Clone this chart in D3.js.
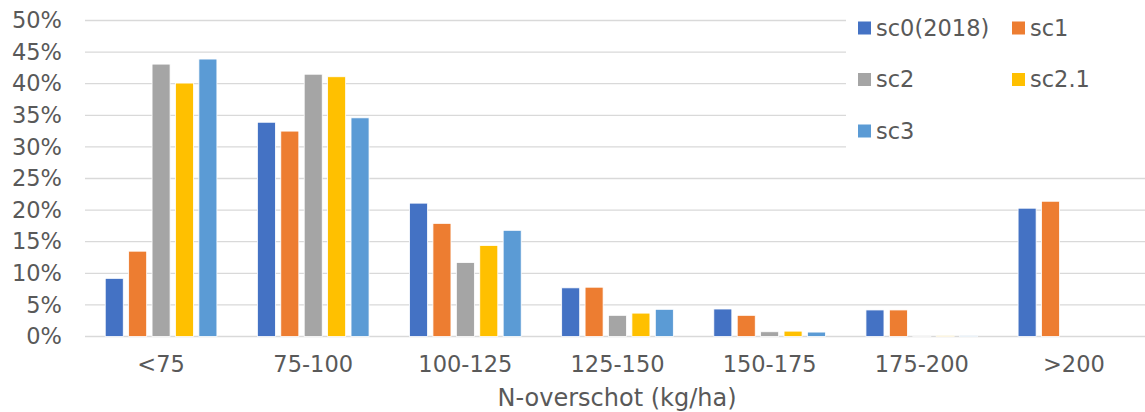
<!DOCTYPE html>
<html>
<head>
<meta charset="utf-8">
<script src="https://cdn.jsdelivr.net/npm/d3@7"></script>
<style>
  body { margin: 0; background: #fff; }
  svg { display: block; font-family: "DejaVu Sans", Verdana, sans-serif; }
</style>
</head>
<body>
<div id="chart"></div>
<script>
// Gegevens van de grafiek
var categorieen = ["<75", "75-100", "100-125", "125-150", "150-175", "175-200", ">200"];
var scenarios = ["sc0(2018)", "sc1", "sc2", "sc2.1", "sc3"];
var kleuren = ["#4472C4", "#ED7D31", "#A5A5A5", "#FFC000", "#5B9BD5"];
var sc0 = [9.2, 33.9, 21.1, 7.7, 4.35, 4.2, 20.3];
var sc1 = [13.5, 32.5, 17.9, 7.8, 3.35, 4.2, 21.4];
var sc2 = [43.1, 41.5, 11.7, 3.35, 0.75, 0.1, 0];
var sc21 = [40.1, 41.1, 14.4, 3.7, 0.85, 0.1, 0];
var sc3 = [43.9, 34.6, 16.8, 4.3, 0.7, 0.1, 0];
var yTicks = [0, 5, 10, 15, 20, 25, 30, 35, 40, 45, 50];
var asTitel = "N-overschot (kg/ha)";

var reeksen = [sc0, sc1, sc2, sc21, sc3];

var totalWidth = 1145;
var totalHeight = 412;
var plotLeft = 85, plotRight = 1145, plotTop = 20.5, plotBottom = 336.5;
var tekstKleur = "#595959";
var tekstGrootte = "22.5px";

var svg = d3.select("#chart").append("svg")
	.attr("width", totalWidth)
	.attr("height", totalHeight);

// de categorieën lopen iets voorbij de rand van de afbeelding
var x0 = d3.scaleBand().domain(categorieen).range([plotLeft, 1150]).paddingInner(0.266).paddingOuter(0.133);
var x1 = d3.scaleBand().domain(d3.range(scenarios.length)).range([0, x0.bandwidth()]).paddingInner(0.23);
var y = d3.scaleLinear().domain([0, 50]).range([plotBottom, plotTop]);

// Rasterlijnen
svg.append("g")
	.selectAll("line")
	.data(yTicks)
	.join("line")
	.attr("x1", plotLeft)
	.attr("x2", plotRight)
	.attr("y1", function(d) { return y(d); })
	.attr("y2", function(d) { return y(d); })
	.attr("stroke", "#D9D9D9")
	.attr("stroke-width", 1.3);

// Y-as labels
var yAxis = d3.axisLeft(y).tickValues(yTicks).tickFormat(function(d) { return d + "%"; }).tickSize(0).tickPadding(0);
var gy = svg.append("g").attr("transform", "translate(62,0)").call(yAxis);
gy.select(".domain").remove();
gy.selectAll("text").attr("fill", tekstKleur).style("font-size", tekstGrootte).style("font-family", "DejaVu Sans");

// Staven
var groepen = svg.append("g")
	.selectAll("g")
	.data(categorieen)
	.join("g")
	.attr("transform", function(d) { return "translate(" + x0(d) + ",0)"; });

groepen.selectAll("rect")
	.data(function(d, i) { return reeksen.map(function(r, s) { return { s: s, v: r[i] }; }); })
	.join("rect")
	.attr("x", function(d) { return x1(d.s); })
	.attr("width", x1.bandwidth())
	.attr("y", function(d) { return y(d.v); })
	.attr("height", function(d) { return plotBottom - y(d.v); })
	.attr("fill", function(d) { return kleuren[d.s]; })
	.attr("stroke", "#fff")
	.attr("stroke-width", 0.8);

// X-as labels
var xAxis = d3.axisBottom(x0).tickSize(0).tickPadding(0);
var gx = svg.append("g").attr("transform", "translate(0,356)").call(xAxis);
gx.select(".domain").remove();
gx.selectAll("text").attr("fill", tekstKleur).style("font-size", tekstGrootte).style("font-family", "DejaVu Sans");

svg.append("text")
	.attr("x", 617)
	.attr("y", 406)
	.attr("text-anchor", "middle")
	.attr("fill", tekstKleur)
	.style("font-size", "24px")
	.text(asTitel);

// Legenda
svg.append("rect")
	.attr("x", 846).attr("y", 0)
	.attr("width", 299).attr("height", 160)
	.attr("fill", "#fff");

var legenda = svg.append("g")
	.selectAll("g")
	.data(scenarios)
	.join("g")
	.attr("transform", function(d, i) { return "translate(" + (858 + (i % 2) * 154) + "," + (28 + Math.floor(i / 2) * 51.5) + ")"; });

legenda.append("rect")
	.attr("x", 0).attr("y", -6.5)
	.attr("width", 13).attr("height", 13)
	.attr("fill", function(d, i) { return kleuren[i]; });

legenda.append("text")
	.attr("x", 18)
	.attr("y", 0)
	.attr("dy", "0.35em")
	.attr("fill", tekstKleur)
	.style("font-size", tekstGrootte)
	.text(function(d) { return d; });
</script>
</body>
</html>
